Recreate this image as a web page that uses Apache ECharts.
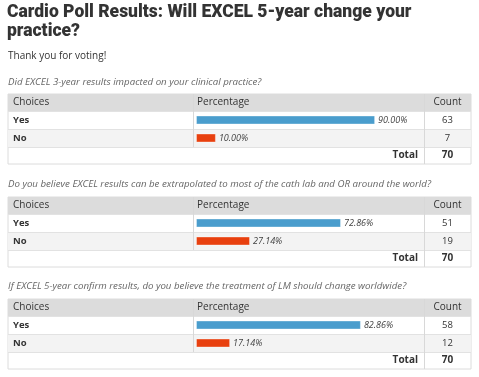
<!DOCTYPE html>
<html>
<head>
<meta charset="utf-8">
<script src="https://cdn.jsdelivr.net/npm/echarts@6/dist/echarts.min.js"></script>
<style>
  html, body { margin: 0; padding: 0; background: #fff; }
  #main { width: 479px; height: 377px; }
</style>
</head>
<body>
<div id="main"></div>
<script>
// 数据
const pollTitle = "Cardio Poll Results: Will EXCEL 5-year change your\npractice?";
const pollSub = "Thank you for voting!";
const questions = [
  "Did EXCEL 3-year results impacted on your clinical practice?",
  "Do you believe EXCEL results can be extrapolated to most of the cath lab and OR around the world?",
  "If EXCEL 5-year confirm results, do you believe the treatment of LM should change worldwide?"
];
const choices = ["Yes", "No"];
const percents = [
  [90.0, 10.0],
  [72.86, 27.14],
  [82.86, 17.14]
];
const counts = [
  [63, 7],
  [51, 19],
  [58, 12]
];
const totals = [70, 70, 70];
const headers = ["Choices", "Percentage", "Count"];
const barColors = ["#4a9dcd", "#e8400f"];

// 布局
const bodyFont = "'Open Sans', 'DejaVu Sans', sans-serif";
const tableLeft = 8, tableRight = 471;
const colPct = 193, colCount = 424;
const barLeft = 196, barFull = 199;
const tops = [94, 197, 299];
const questionY = [83, 185, 287];
const headH = 17, rowH = 18, totalH = 17;
const countCenter = (colCount + tableRight) / 2;

let myChart = echarts.init(document.getElementById("main"));

let titles = [
  {
    text: pollTitle,
    left: 7,
    top: 3,
    padding: 0,
    textStyle: {
      fontFamily: "Roboto, 'Liberation Sans', sans-serif",
      fontWeight: 900,
      fontSize: 17.5,
      lineHeight: 19,
      color: "#333"
    }
  },
  {
    text: pollSub,
    left: 8,
    top: 51,
    padding: 0,
    textStyle: { fontFamily: bodyFont, fontWeight: "normal", fontSize: 10, color: "#333" }
  }
];

let grids = [], xAxes = [], yAxes = [], series = [], graphics = [];

questions.forEach((q, i) => {
  const T = tops[i];
  const tableH = headH + rowH * 2 + totalH;

  titles.push({
    text: q,
    left: 8,
    top: questionY[i] - 6,
    padding: 0,
    textStyle: {
      fontFamily: bodyFont,
      fontStyle: "italic",
      fontWeight: "normal",
      fontSize: 9.7,
      color: "#666"
    }
  });

  // 表格背景与边框
  graphics.push(
    { type: "rect", z: 0, shape: { x: tableLeft, y: T, width: tableRight - tableLeft, height: tableH }, style: { fill: "#fff", stroke: "#dcdcdc", lineWidth: 1 } },
    { type: "rect", z: 0, shape: { x: tableLeft, y: T, width: tableRight - tableLeft, height: headH }, style: { fill: "#dcdcdc" } },
    { type: "rect", z: 0, shape: { x: tableLeft, y: T + headH + rowH, width: tableRight - tableLeft, height: rowH }, style: { fill: "#f3f3f3" } }
  );
  [T + headH, T + headH + rowH, T + headH + rowH * 2].forEach((y) => {
    graphics.push({ type: "line", z: 0, shape: { x1: tableLeft, y1: y + 0.5, x2: tableRight, y2: y + 0.5 }, style: { stroke: "#e2e2e2", lineWidth: 1 } });
  });
  graphics.push(
    { type: "line", z: 0, shape: { x1: colPct + 0.5, y1: T, x2: colPct + 0.5, y2: T + headH + rowH * 2 }, style: { stroke: "#d8d8d8", lineWidth: 1 } },
    { type: "line", z: 0, shape: { x1: colCount + 0.5, y1: T, x2: colCount + 0.5, y2: T + tableH }, style: { stroke: "#d8d8d8", lineWidth: 1 } }
  );

  // 表头
  const headX = [tableLeft + 5, barLeft + 1, countCenter];
  headers.forEach((h, k) => {
    graphics.push({
      type: "text", z: 3, x: headX[k], y: T + headH / 2,
      style: { text: h, fill: "#333", font: "10px " + bodyFont, textAlign: k === 2 ? "center" : "left", textVerticalAlign: "middle" }
    });
  });
  // 合计
  graphics.push(
    { type: "text", z: 3, x: colCount - 6, y: T + headH + rowH * 2 + totalH / 2,
      style: { text: "Total", fill: "#333", font: "bold 10px " + bodyFont, textAlign: "right", textVerticalAlign: "middle" } },
    { type: "text", z: 3, x: countCenter, y: T + headH + rowH * 2 + totalH / 2,
      style: { text: String(totals[i]), fill: "#333", font: "bold 10px " + bodyFont, textAlign: "center", textVerticalAlign: "middle" } }
  );

  grids.push({ left: barLeft, top: T + headH, width: barFull, height: rowH * 2 });
  xAxes.push({ gridIndex: i, type: "value", min: 0, max: 100, show: false });
  yAxes.push(
    {
      gridIndex: i, type: "category", data: choices, inverse: true,
      axisLine: { show: false }, axisTick: { show: false }, splitLine: { show: false },
      axisLabel: { margin: barLeft - tableLeft - 5, align: "left", fontFamily: bodyFont, fontWeight: "bold", fontSize: 9.5, color: "#333" }
    },
    {
      gridIndex: i, type: "category", position: "right", data: counts[i].map(String), inverse: true,
      axisLine: { show: false }, axisTick: { show: false }, splitLine: { show: false },
      axisLabel: { margin: countCenter - (barLeft + barFull), align: "center", fontFamily: bodyFont, fontSize: 9.5, color: "#333" }
    }
  );
  series.push({
    type: "bar",
    xAxisIndex: i,
    yAxisIndex: i * 2,
    barWidth: 9,
    z: 2,
    animation: false,
    data: percents[i].map((v, k) => ({
      value: v,
      itemStyle: { color: barColors[k], borderColor: "rgba(255,255,255,0.35)", borderWidth: 1 }
    })),
    label: {
      show: true,
      position: "right",
      distance: 3,
      formatter: (p) => p.value.toFixed(2) + "%",
      fontFamily: bodyFont,
      fontStyle: "italic",
      fontSize: 9,
      color: "#444"
    }
  });
});

let option = {
  backgroundColor: "#fff",
  animation: false,
  title: titles,
  grid: grids,
  xAxis: xAxes,
  yAxis: yAxes,
  series: series,
  graphic: { elements: graphics }
};

option && myChart.setOption(option);
</script>
</body>
</html>
